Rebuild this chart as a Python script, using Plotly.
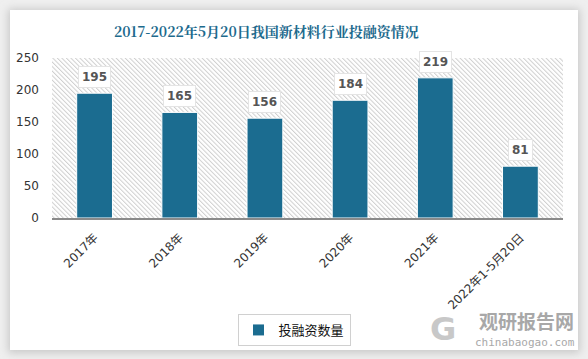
import base64
import plotly.graph_objects as go

categories = ["2017年", "2018年", "2019年", "2020年", "2021年", "2022年1-5月20日"]
values = [195, 165, 156, 184, 219, 81]
series_name = "投融资数量"
title_text = "2017-2022年5月20日我国新材料行业投融资情况"
y_ticks = [0, 50, 100, 150, 200, 250]

W, H = 588, 359
ML, MR, MT, MB = 52, 25, 58, 141
PW, PH = W - ML - MR, H - MT - MB

BAR = "#1b6c90"


def svg_uri(svg):
    return "data:image/svg+xml;base64," + base64.b64encode(svg.encode()).decode()


card_svg = f'''<svg xmlns="http://www.w3.org/2000/svg" width="{W}" height="{H}" viewBox="0 0 {W} {H}" preserveAspectRatio="none">
<defs><filter id="s" x="-10%" y="-10%" width="120%" height="120%"><feGaussianBlur stdDeviation="4"/></filter></defs>
<rect x="0" y="0" width="{W}" height="{H}" fill="#efefef"/>
<rect x="8" y="9" width="572" height="344" fill="#c8c8c8" filter="url(#s)"/>
<rect x="10" y="10" width="568" height="340" fill="#ffffff"/>
</svg>'''

hatch_svg = f'''<svg xmlns="http://www.w3.org/2000/svg" width="{PW}" height="{PH}" viewBox="0 0 {PW} {PH}" preserveAspectRatio="none">
<defs><pattern id="p" width="3.2" height="3.2" patternUnits="userSpaceOnUse" patternTransform="rotate(-45)">
<rect width="3.2" height="3.2" fill="#ffffff"/><line x1="0.5" y1="0" x2="0.5" y2="3.2" stroke="#cfcfcf" stroke-width="1"/></pattern></defs>
<rect width="{PW}" height="{PH}" fill="url(#p)"/>
</svg>'''


def px_x(px):
    return (px - ML) / PW


def px_y(py):
    return (H - MB - py) / PH


fig = go.Figure()
fig.add_trace(go.Bar(
    x=categories, y=values, name=series_name,
    marker=dict(color=BAR, line=dict(color="#ffffff", width=1)),
    width=0.42,
))

for c, v in zip(categories, values):
    fig.add_annotation(
        x=c, y=v, xref="x", yref="y", text=f"<b>{v}</b>", showarrow=False,
        yanchor="bottom", yshift=5, bgcolor="#ffffff", bordercolor="#e4e4e4",
        borderwidth=1, borderpad=3,
        font=dict(family="DejaVu Sans, Noto Sans CJK SC", size=12, color="#555555"),
    )

fig.add_annotation(
    x=px_x(266), y=px_y(31), xref="paper", yref="paper",
    text=f"<b>{title_text}</b>", showarrow=False, xanchor="center", yanchor="middle",
    font=dict(family="Noto Serif CJK SC, Noto Sans CJK SC", size=14, color="#1d6a8d"),
)

# watermark
fig.add_annotation(
    x=px_x(576), y=px_y(320), xref="paper", yref="paper",
    text="<b>观研报告网</b>", showarrow=False, xanchor="right", yanchor="middle",
    font=dict(family="Noto Sans CJK SC", size=19, color="#a8a8a8"),
)
fig.add_annotation(
    x=px_x(577), y=px_y(342), xref="paper", yref="paper",
    text="chinabaogao.com", showarrow=False, xanchor="right", yanchor="middle",
    font=dict(family="DejaVu Sans Mono", size=11, color="#a8a8a8"),
)
fig.add_annotation(
    x=px_x(443), y=px_y(329), xref="paper", yref="paper",
    text="<b>G</b>", showarrow=False, xanchor="center", yanchor="middle",
    font=dict(family="DejaVu Sans", size=32, color="#c8c8c8"),
)

fig.update_layout(
    width=W, height=H,
    margin=dict(l=ML, r=MR, t=MT, b=MB, pad=0, autoexpand=False),
    paper_bgcolor="#efefef",
    plot_bgcolor="rgba(0,0,0,0)",
    showlegend=True,
    legend=dict(
        orientation="h", x=px_x(294), xanchor="center",
        y=px_y(330), yanchor="middle",
        bordercolor="#d0d0d0", borderwidth=1, bgcolor="#ffffff",
        font=dict(family="Noto Sans CJK SC", size=13, color="#111111"),
        itemwidth=30,
    ),
    xaxis=dict(
        type="category", tickangle=-45, showgrid=False, showline=True,
        linecolor="#8a8a8a", linewidth=1.5, ticks="", automargin=False,
        ticklabelstandoff=6,
        tickfont=dict(family="DejaVu Sans, Noto Sans CJK SC", size=12, color="#333333"),
        range=[-0.5, len(categories) - 0.5],
    ),
    yaxis=dict(
        range=[0, 250], tickvals=y_ticks, showgrid=False, zeroline=False,
        showline=False, ticks="", ticklabelstandoff=12, automargin=False,
        tickfont=dict(family="DejaVu Sans", size=12, color="#333333"),
    ),
    images=[
        dict(source=svg_uri(card_svg), xref="paper", yref="paper",
             x=-ML / PW, y=1 + MT / PH, sizex=W / PW, sizey=H / PH,
             sizing="stretch", xanchor="left", yanchor="top", layer="below"),
        dict(source=svg_uri(hatch_svg), xref="paper", yref="paper",
             x=0, y=1, sizex=1, sizey=1,
             sizing="stretch", xanchor="left", yanchor="top", layer="below"),
    ],
)

fig.write_html(
    "out.html",
    config={"displayModeBar": False},
    post_script="document.body.style.margin='0';document.body.style.overflow='hidden';",
)
